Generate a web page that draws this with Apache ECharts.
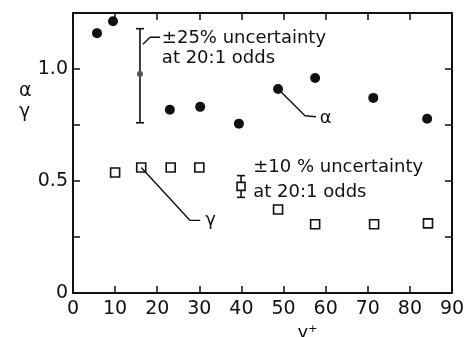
<!DOCTYPE html>
<html>
<head>
<meta charset="utf-8">
<script src="https://cdn.jsdelivr.net/npm/echarts@6/dist/echarts.min.js"></script>
<style>
html,body{margin:0;padding:0;background:#fff;}
#chart{width:470px;height:337px;}
</style>
</head>
<body>
<div id="chart"></div>
<script>
// alpha: filled circles
var alphaX = [5.7, 9.5, 23.0, 30.2, 39.4, 48.7, 57.5, 71.3, 84.1];
var alphaY = [1.16, 1.213, 0.818, 0.831, 0.756, 0.911, 0.96, 0.871, 0.778];
// gamma: open squares
var gammaX = [10.0, 16.2, 23.2, 30.0, 48.7, 57.5, 71.5, 84.3];
var gammaY = [0.538, 0.56, 0.56, 0.56, 0.373, 0.307, 0.307, 0.311];
// error bars [x, centre, low, high]
var alphaErr = [15.9, 0.978, 0.76, 1.18];
var gammaErr = [39.9, 0.476, 0.427, 0.524];
// leader lines
var leadAlphaErr = [[16.6, 1.111], [18.3, 1.142], [20.7, 1.142]];
var leadAlpha = [[48.7, 0.911], [55.1, 0.791], [57.7, 0.787]];
var leadGamma = [[16.2, 0.56], [27.8, 0.324], [30.2, 0.324]];
// text notes
var noteX = [21.1, 21.1, 42.8, 42.8, 58.6, 31.4];
var noteY = [1.138, 1.049, 0.56, 0.449, 0.78, 0.324];
var noteText = ['±25% uncertainty', 'at 20:1 odds', '±10 % uncertainty', 'at 20:1 odds', 'α', 'γ'];
var yTickLabels = {'0': '0', '0.5': '0.5', '1': '1.0'};

var font = 'DejaVu Sans';
var ink = '#111';
var notes = [];
for (var i = 0; i < noteX.length; i++) {
	notes.push({value: [noteX[i], noteY[i]], name: noteText[i]});
}
function zip(a, b) {
	var out = [];
	for (var i = 0; i < a.length; i++) out.push([a[i], b[i]]);
	return out;
}

function errItem(marker) {
	return function (params, api) {
		var x = api.value(0);
		var c = api.coord([x, api.value(1)]);
		var lo = api.coord([x, api.value(2)]);
		var hi = api.coord([x, api.value(3)]);
		var st = {stroke: ink, lineWidth: 1.6};
		var kids = [
			{type: 'line', shape: {x1: lo[0], y1: lo[1], x2: hi[0], y2: hi[1]}, style: st},
			{type: 'line', shape: {x1: hi[0] - 4, y1: hi[1], x2: hi[0] + 4, y2: hi[1]}, style: st},
			{type: 'line', shape: {x1: lo[0] - 4, y1: lo[1], x2: lo[0] + 4, y2: lo[1]}, style: st}
		];
		if (marker == 'dot') {
			kids.push({type: 'circle', shape: {cx: c[0], cy: c[1], r: 3}, style: {fill: '#555'}});
		} else {
			kids.push({type: 'rect', shape: {x: c[0] - 4, y: c[1] - 4, width: 8, height: 8}, style: {fill: '#fff', stroke: ink, lineWidth: 1.6}});
		}
		return {type: 'group', children: kids};
	};
}

var lineStyle = {color: ink, width: 1.4};
function axisBase(extra) {
	return Object.assign({
		axisLine: {show: true, onZero: false, lineStyle: {color: ink, width: 2}},
		axisTick: {show: true, inside: true, length: 7, lineStyle: {color: ink, width: 1.5}},
		splitLine: {show: false}
	}, extra);
}

var option = {
	animation: false,
	backgroundColor: '#fff',
	grid: {left: 73, right: 18, top: 13, bottom: 44, containLabel: false, outerBoundsMode: 'none'},
	// axis title for the y axis (two symbols stacked)
	graphic: [
		{type: 'text', left: 19, top: 81, style: {text: 'α\nγ', fill: ink, font: '19px "DejaVu Sans"', lineHeight: 21}}
	]
};
option.xAxis = [
	axisBase({type: 'value', min: 0, max: 90, interval: 10, position: 'bottom',
		name: 'y⁺', nameLocation: 'middle', nameGap: 29,
		nameTextStyle: {color: ink, fontFamily: font, fontSize: 18, padding: [0, 0, 0, 90]},
		axisLabel: {color: ink, fontFamily: font, fontSize: 19, margin: 7}}),
	axisBase({type: 'value', min: 0, max: 90, interval: 10, position: 'top',
		axisLabel: {show: false}})
];
option.yAxis = [
	axisBase({type: 'value', min: 0, max: 1.25, interval: 0.25, position: 'left',
		axisLabel: {color: ink, fontFamily: font, fontSize: 19, margin: 5,
			formatter: function (v) { return yTickLabels[String(v)] || ''; }}}),
	axisBase({type: 'value', min: 0, max: 1.25, interval: 0.25, position: 'right',
		axisLabel: {show: false}})
];
option.series = [
	{type: 'scatter', data: zip(alphaX, alphaY), symbol: 'circle', symbolSize: 10,
		itemStyle: {color: ink, opacity: 1}},
	{type: 'scatter', data: zip(gammaX, gammaY), symbol: 'rect', symbolSize: 9,
		itemStyle: {color: '#fff', borderColor: ink, borderWidth: 1.6, opacity: 1}},
	{type: 'custom', data: [alphaErr], renderItem: errItem('dot')},
	{type: 'custom', data: [gammaErr], renderItem: errItem('square')},
	{type: 'line', data: leadAlphaErr, symbol: 'none', lineStyle: lineStyle},
	{type: 'line', data: leadAlpha, symbol: 'none', lineStyle: lineStyle},
	{type: 'line', data: leadGamma, symbol: 'none', lineStyle: lineStyle},
	{type: 'scatter', data: notes, symbolSize: 0, silent: true,
		itemStyle: {opacity: 1},
		label: {show: true, position: 'right', distance: 0, color: ink,
			fontFamily: font, fontSize: 18,
			formatter: function (p) { return p.name; }}}
];

var chart = echarts.init(document.getElementById('chart'));
chart.setOption(option);
</script>
</body>
</html>
